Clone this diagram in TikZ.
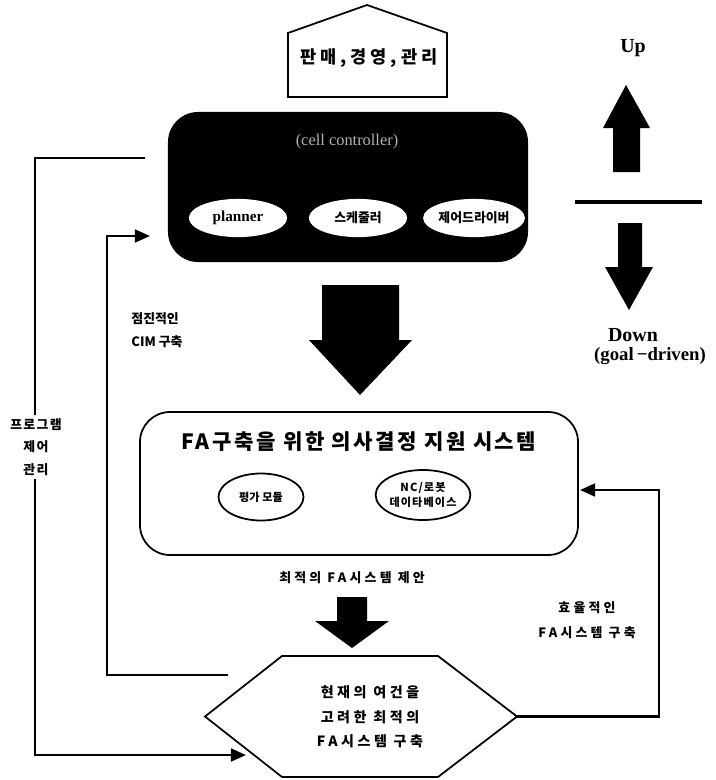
\documentclass[tikz,border=0pt]{standalone}
\usepackage{fontspec}
\setmainfont{Liberation Serif}
\newfontfamily\kr{Noto Sans CJK KR}
\usetikzlibrary{arrows.meta,shapes.geometric}
\begin{document}
\begin{tikzpicture}[x=0.03cm,y=-0.03cm,
  conn/.style={line width=2.2pt},
  arr/.style={conn,-{Triangle[length=13pt,width=11pt]}},
  lab/.style={font=\kr\bfseries\fontsize{11}{13}\selectfont\addfontfeatures{LetterSpace=20}, align=center, inner sep=1pt},
  blockarrow/.style={fill=black},
  wellipse/.style={ellipse, fill=white, draw=white, line width=1pt, minimum width=2.91cm, minimum height=1.11cm, inner sep=0pt},
  bellipse/.style={ellipse, draw=black, line width=1.5pt, inner sep=0pt},
  outline/.style={draw=black, line width=1.5pt}]
\useasboundingbox (0,0) rectangle (715,780);

% top pentagon
\draw[outline] (288,97) -- (288,33) -- (367,5) -- (447,33) -- (447,97) -- cycle;
\node[font=\kr\bfseries\fontsize{15}{17}\selectfont\addfontfeatures{LetterSpace=22}] (top) at (369,58) {판매,경영,관리};

% cell controller block
\node[fill=black, rounded corners=0.9cm, minimum width=10.8cm, minimum height=4.5cm] (cell) at (348,187) {};
\node[text=gray!60, font=\fontsize{14}{16}\selectfont] (celltxt) at (347,142) {(cell controller)};
\node[wellipse, font=\bfseries\fontsize{13}{15}\selectfont] (pl) at (238,218) {planner};
\node[wellipse, font=\kr\bfseries\fontsize{11}{13}\selectfont] (sch) at (358,218) {스케줄러};
\node[wellipse, minimum width=2.85cm, font=\kr\bfseries\fontsize{11}{13}\selectfont] (drv) at (474,218) {제어드라이버};

% big down arrow
\fill[blockarrow] (322,285) -- (399,285) -- (399,340) -- (412,340) -- (360,395) -- (309,340) -- (322,340) -- cycle;

% up / down
\node[font=\bfseries\fontsize{17}{19}\selectfont] (up) at (633,48) {Up};
\fill[blockarrow] (626,85) -- (650,128) -- (640,128) -- (640,172) -- (613,172) -- (613,128) -- (603,128) -- cycle;
\draw[line width=2.6pt] (575,202) -- (702,202);
\fill[blockarrow] (618,223) -- (642,223) -- (642,267) -- (653,267) -- (629,310) -- (605,267) -- (618,267) -- cycle;
\node[font=\bfseries\fontsize{17}{19}\selectfont] (down) at (633,335) {Down};
\node[font=\bfseries\fontsize{16}{18}\selectfont] (goal) at (650,356) {(goal\,−driven)};

% decision support system
\node[outline, rounded corners=0.9cm, minimum width=13.14cm, minimum height=4.29cm] (fa) at (359,483.5) {};
\node[font=\kr\bfseries\fontsize{18}{20}\selectfont\addfontfeatures{LetterSpace=12}] (fatitle) at (359,442) {FA구축을 위한 의사결정 지원 시스템};
\node[bellipse, minimum width=2.55cm, minimum height=1.41cm, font=\kr\bfseries\fontsize{9.5}{11}\selectfont] (ev) at (261,497) {평가 모듈};
\node[bellipse, minimum width=2.79cm, minimum height=1.5cm, align=center, font=\kr\bfseries\fontsize{9.5}{12}\selectfont\addfontfeatures{LetterSpace=10}] (db) at (423,495) {NC/로봇\\데이타베이스};

\node[lab, font=\kr\bfseries\fontsize{11}{13}\selectfont\addfontfeatures{LetterSpace=25}] (prop) at (352,578) {최적의 FA시스템 제안};
\fill[blockarrow] (337,597) -- (367,597) -- (367,621) -- (389,621) -- (352,648) -- (315,621) -- (337,621) -- cycle;

% hexagon
\coordinate (hexL) at (205,716.5);
\coordinate (hexR) at (517,716.5);
\draw[outline] (hexL) -- (282,656) -- (438,656) -- (hexR) -- (438,777) -- (282,777) -- cycle;
\node[lab, font=\kr\bfseries\fontsize{12}{21}\selectfont\addfontfeatures{LetterSpace=25}] (hextxt) at (370,717) {현재의 여건을\\고려한 최적의\\FA시스템 구축};

% connectors
\coordinate (o1) at (145,158);
\coordinate (hexin) at (246,755);
\draw[arr] (o1) -- (35,158) -- (35,755) -- (hexin);
\node[lab, fill=white, font=\kr\bfseries\fontsize{11}{19}\selectfont\addfontfeatures{LetterSpace=10}, inner sep=3pt] (prog) at (36,447) {프로그램\\제어\\관리};

\coordinate (i0) at (228,675);
\coordinate (cellin) at (150,236);
\draw[arr] (i0) -- (107,675) -- (107,236) -- (cellin);
\node[lab, anchor=west, align=left, font=\kr\bfseries\fontsize{11}{20}\selectfont] (cim) at (130,330) {점진적인\\CIM 구축};

\coordinate (fain) at (580,490);
\draw[arr] (hexR) -- (659,716.5) -- (659,490) -- (fain);
\node[lab, font=\kr\bfseries\fontsize{11}{21}\selectfont\addfontfeatures{LetterSpace=25}] (eff) at (587,620) {효율적인\\FA시스템 구축};
\end{tikzpicture}
\end{document}
